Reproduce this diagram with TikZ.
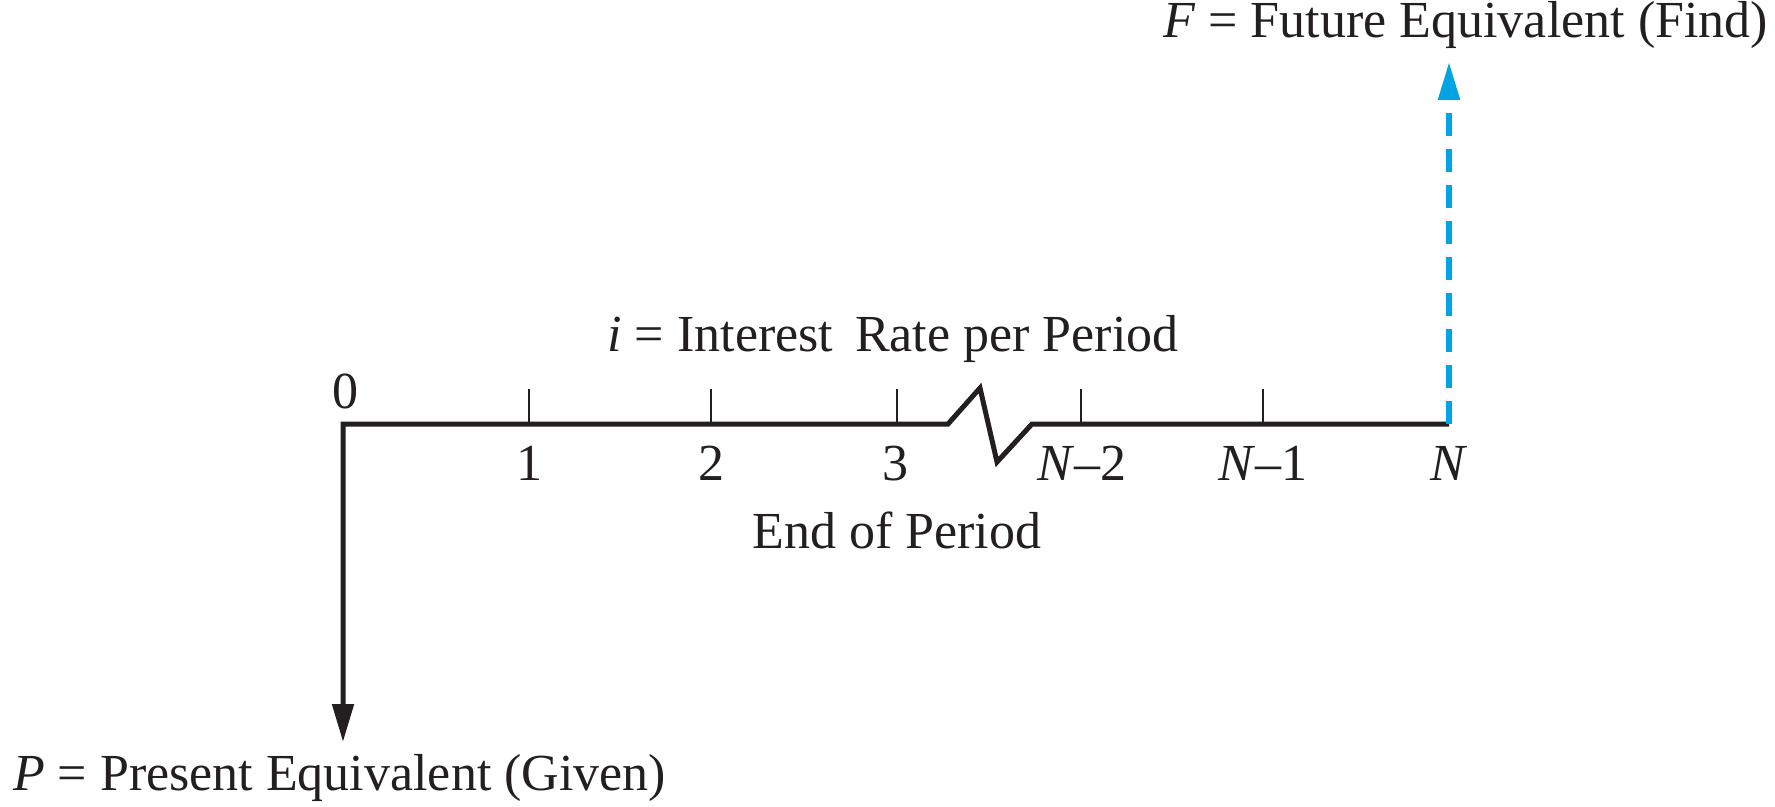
\documentclass[tikz,border=0pt]{standalone}
\usepackage{fontspec}
\setmainfont{Liberation Serif}
\usetikzlibrary{arrows.meta}
\definecolor{cashblue}{RGB}{0,163,228}
\definecolor{ink}{RGB}{35,31,32}
\begin{document}
\begin{tikzpicture}[x=0.5pt,y=-0.5pt,
  lbl/.style={inner sep=0pt, outer sep=0pt, text=ink, font=\fontsize{26}{30}\selectfont},
  axisline/.style={draw=ink, line width=2.5pt, line join=miter},
  tickline/.style={draw=ink, line width=1.1pt},
  bigtip/.style={-{Triangle[length=19pt,width=10.5pt]}},
  findarrow/.style={draw=cashblue, line width=2.8pt, dash pattern=on 11.5pt off 6.5pt}
]
\useasboundingbox (0,0) rectangle (1775,807);
% axis coordinates
\coordinate (o) at (343,424);
\coordinate (z1) at (948,424);
\coordinate (z2) at (980,388);
\coordinate (z3) at (997,462);
\coordinate (z4) at (1032,424);
\coordinate (n) at (1449,424);
\coordinate (pbot) at (343,742);
\coordinate (ftop) at (1449,62);
% ticks
\foreach \name/\x in {k1/529, k2/711, k3/897, kn2/1081, kn1/1263}{
  \coordinate (\name) at (\x,424);
  \coordinate (\name t) at (\x,389);
  \draw[tickline] (\name) -- (\name t);
}
% axis and present arrow
\draw[axisline, bigtip] (n) -- (z4) -- (z3) -- (z2) -- (z1) -- (o) -- (pbot);
% future arrow
\draw[findarrow, bigtip] (n) -- (ftop);
% labels
\node[lbl, anchor=base] (l0) at (345,408) {0};
\node[lbl, anchor=base] (l1) at (529,480) {1};
\node[lbl, anchor=base] (l2) at (711,480) {2};
\node[lbl, anchor=base] (l3) at (895,480) {3};
\node[lbl, anchor=base] (ln2) at (1082,480) {\textit{N}–2};
\node[lbl, anchor=base] (ln1) at (1263,480) {\textit{N}–1};
\node[lbl, anchor=base] (ln) at (1449,480) {\textit{N}};
\node[lbl, anchor=base] (rate) at (893,351) {\textit{i} = Interest\hspace{0.17em} Rate per Period};
\node[lbl, anchor=base] (eop) at (897,548) {End of Period};
\node[lbl, anchor=base east] (flab) at (1768,38) {\textit{F} = Future Equivalent (Find)};
\node[lbl, anchor=base west] (plab) at (13,790) {\textit{P} = Present Equivalent (Given)};
\end{tikzpicture}
\end{document}
